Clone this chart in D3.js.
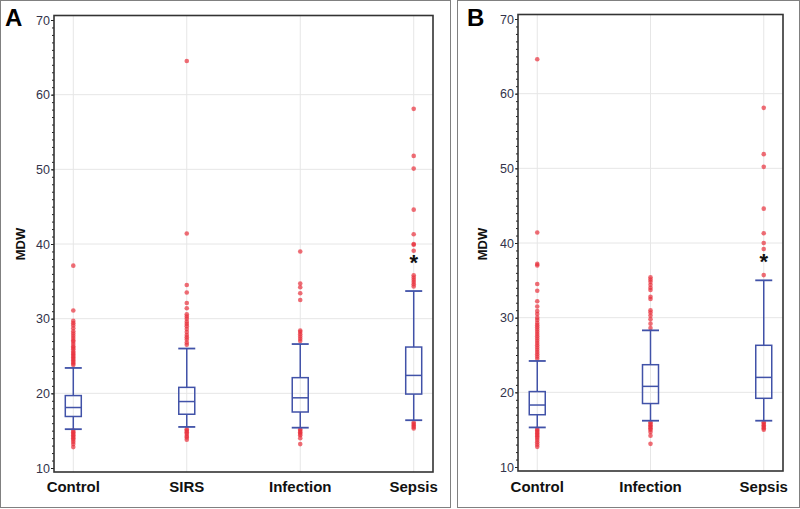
<!DOCTYPE html>
<html>
<head>
<meta charset="utf-8">
<script src="https://d3js.org/d3.v7.min.js"></script>
<style>
  body { margin: 0; background: #fff; }
  svg text { font-family: "Liberation Sans", Arial, sans-serif; }
  .tick text { fill: #33334a; font-size: 12.5px; }
  .tick line { stroke: #222; }
  .cat { font-weight: bold; font-size: 15px; fill: #111; text-anchor: middle; }
  .ylab { font-weight: bold; font-size: 13px; fill: #111; text-anchor: middle; }
  .letter { font-weight: bold; font-size: 24px; fill: #000; }
</style>
</head>
<body>
<div id="chart"></div>
<script>
// ---- panel A ----
const catsA     = ["Control", "SIRS", "Infection", "Sepsis"];
const lowA      = [15.2, 15.5, 15.4, 16.4];
const q1A       = [16.9, 17.2, 17.5, 19.9];
const medianA   = [18.1, 18.9, 19.4, 22.4];
const q3A       = [19.7, 20.8, 22.1, 26.2];
const highA     = [23.4, 26.0, 26.6, 33.7];
const outliersA = [
  [23.8, 24.0, 24.2, 24.4, 24.6, 24.8, 25.0, 25.2, 25.4, 25.6, 25.9, 26.1, 26.3, 26.6, 26.9,
   27.1, 27.4, 27.7, 28.0, 28.3, 28.7, 29.1, 29.4, 29.7, 31.1, 37.1,
   15.0, 14.8, 14.6, 14.4, 14.2, 14.0, 13.8, 13.5, 13.2, 12.8],
  [26.5, 26.8, 27.2, 27.5, 27.8, 28.2, 28.6, 29.0, 29.3, 29.6, 30.0, 30.3, 30.6, 31.4, 32.1,
   33.5, 34.5, 41.4, 64.5,
   15.2, 15.0, 14.8, 14.6, 14.3, 14.1, 13.8],
  [27.0, 27.3, 27.6, 27.9, 28.2, 28.4, 32.5, 33.4, 34.2, 34.7, 39.0,
   15.2, 15.0, 14.8, 14.6, 14.4, 14.0, 13.2],
  [34.3, 34.6, 34.9, 35.2, 35.5, 35.8, 39.1, 39.9, 40.0, 41.3, 44.6, 50.1, 51.8, 58.1,
   16.1, 15.9, 15.7, 15.5, 15.3]
];

// ---- panel B ----
const catsB     = ["Control", "Infection", "Sepsis"];
const lowB      = [15.3, 16.2, 16.2];
const q1B       = [17.0, 18.5, 19.2];
const medianB   = [18.3, 20.8, 22.0];
const q3B       = [20.1, 23.7, 26.3];
const highB     = [24.2, 28.3, 35.0];
const outliersB = [
  [24.5, 24.8, 25.1, 25.4, 25.7, 26.0, 26.3, 26.6, 26.9, 27.2, 27.5, 27.8, 28.1, 28.4, 28.7,
   29.0, 29.3, 29.7, 30.0, 30.5, 30.9, 31.5, 32.2, 33.6, 34.5, 37.0, 37.2, 41.4, 64.6,
   15.1, 14.9, 14.7, 14.5, 14.3, 14.1, 13.9, 13.6, 13.3, 13.0, 12.7],
  [28.6, 29.2, 29.8, 30.3, 30.7, 31.0, 32.5, 32.8, 33.7, 34.0, 34.4, 34.8, 35.1, 35.4,
   16.0, 15.8, 15.6, 15.4, 15.2, 15.0, 14.7, 14.2, 13.1],
  [35.7, 39.2, 40.0, 41.3, 44.6, 50.2, 51.9, 58.1,
   16.0, 15.8, 15.6, 15.4, 15.2, 15.0]
];

const yTicks = [10, 20, 30, 40, 50, 60, 70];
const starValue = 38.0;   // "*" drawn over the sepsis box

const svg = d3.select("#chart").append("svg")
  .attr("width", 800).attr("height", 509);

const blue = "#4152a8", red = "#e8303c";

function drawPanel(p) {
  const g = svg.append("g");

  // outer frame
  g.append("rect")
    .attr("x", p.frame[0] + 0.5).attr("y", p.frame[1] + 0.5)
    .attr("width", p.frame[2] - p.frame[0]).attr("height", p.frame[3] - p.frame[1])
    .attr("fill", "none").attr("stroke", "#808080").attr("stroke-width", 1);

  g.append("text").attr("class", "letter")
    .attr("x", p.frame[0] + p.letterDx).attr("y", 26).text(p.letter);

  const y = d3.scaleLinear().domain([10, 70]).range([p.y10, p.y70]);
  const x = d3.scalePoint().domain(p.cats).range([p.left, p.right]).padding(0.17);
  const top = y(70) - 4.5, bottom = y(10) + 4;

  // grid
  g.append("g").selectAll("line").data(yTicks.slice(1, -1)).join("line")
    .attr("x1", p.left).attr("x2", p.right)
    .attr("y1", d => y(d)).attr("y2", d => y(d))
    .attr("stroke", "#e6e6e6");
  g.append("g").selectAll("line").data(p.cats).join("line")
    .attr("x1", d => x(d)).attr("x2", d => x(d))
    .attr("y1", top).attr("y2", bottom)
    .attr("stroke", "#e6e6e6");

  // y axis, minor + major ticks
  g.append("g").attr("transform", `translate(${p.left},0)`)
    .call(d3.axisLeft(y).ticks(60).tickSize(2).tickFormat(""))
    .call(a => a.select(".domain").remove());
  g.append("g").attr("transform", `translate(${p.left},0)`)
    .call(d3.axisLeft(y).tickValues(yTicks).tickSize(3).tickPadding(1).tickFormat(d3.format("d")))
    .call(a => a.select(".domain").remove());

  g.append("text").attr("class", "ylab")
    .attr("transform", `translate(${p.ylabX},244) rotate(-90)`)
    .attr("dy", "0.35em").text("MDW");

  // boxes
  const bw = 16, cw = 17;
  const box = g.append("g").selectAll("g").data(p.cats).join("g")
    .attr("transform", d => `translate(${x(d)},0)`);
  box.append("line")
    .attr("y1", (d, i) => y(p.high[i])).attr("y2", (d, i) => y(p.q3[i]))
    .attr("stroke", blue).attr("stroke-width", 1.5);
  box.append("line")
    .attr("y1", (d, i) => y(p.q1[i])).attr("y2", (d, i) => y(p.low[i]))
    .attr("stroke", blue).attr("stroke-width", 1.5);
  box.append("rect")
    .attr("x", -bw / 2).attr("width", bw)
    .attr("y", (d, i) => y(p.q3[i]))
    .attr("height", (d, i) => y(p.q1[i]) - y(p.q3[i]))
    .attr("fill", "none").attr("stroke", blue).attr("stroke-width", 1.5);
  box.append("line")
    .attr("x1", -bw / 2).attr("x2", bw / 2)
    .attr("y1", (d, i) => y(p.median[i])).attr("y2", (d, i) => y(p.median[i]))
    .attr("stroke", blue).attr("stroke-width", 1.5);

  // outliers
  box.append("g").selectAll("circle").data((d, i) => p.outliers[i]).join("circle")
    .attr("r", 2.3).attr("cy", v => y(v))
    .attr("fill", red).attr("fill-opacity", 0.7);

  // whisker caps over the dots
  [p.high, p.low].forEach(arr => {
    box.append("line")
      .attr("x1", -cw / 2).attr("x2", cw / 2)
      .attr("y1", (d, i) => y(arr[i])).attr("y2", (d, i) => y(arr[i]))
      .attr("stroke", blue).attr("stroke-width", 1.8);
  });

  // significance star
  const last = p.cats[p.cats.length - 1];
  g.append("text")
    .attr("x", x(last)).attr("y", y(starValue) + 11)
    .attr("text-anchor", "middle")
    .attr("font-weight", "bold").attr("font-size", 22).attr("fill", "#111")
    .text("*");

  // plot frame
  g.append("rect")
    .attr("x", p.left).attr("y", top)
    .attr("width", p.right - p.left).attr("height", bottom - top)
    .attr("fill", "none").attr("stroke", "#333").attr("stroke-width", 1.6);

  // category labels
  g.append("g").selectAll("text").data(p.cats).join("text")
    .attr("class", "cat").attr("x", d => x(d)).attr("y", 492).text(d => d);
}

drawPanel({
  letter: "A", letterDx: 5, frame: [0, 0, 450, 507],
  left: 54, right: 433, y10: 468, y70: 20, ylabX: 20,
  cats: catsA, low: lowA, q1: q1A, median: medianA, q3: q3A, high: highA, outliers: outliersA
});
drawPanel({
  letter: "B", letterDx: 10, frame: [457, 0, 799, 507],
  left: 518, right: 783, y10: 467, y70: 19, ylabX: 482,
  cats: catsB, low: lowB, q1: q1B, median: medianB, q3: q3B, high: highB, outliers: outliersB
});
</script>
</body>
</html>
